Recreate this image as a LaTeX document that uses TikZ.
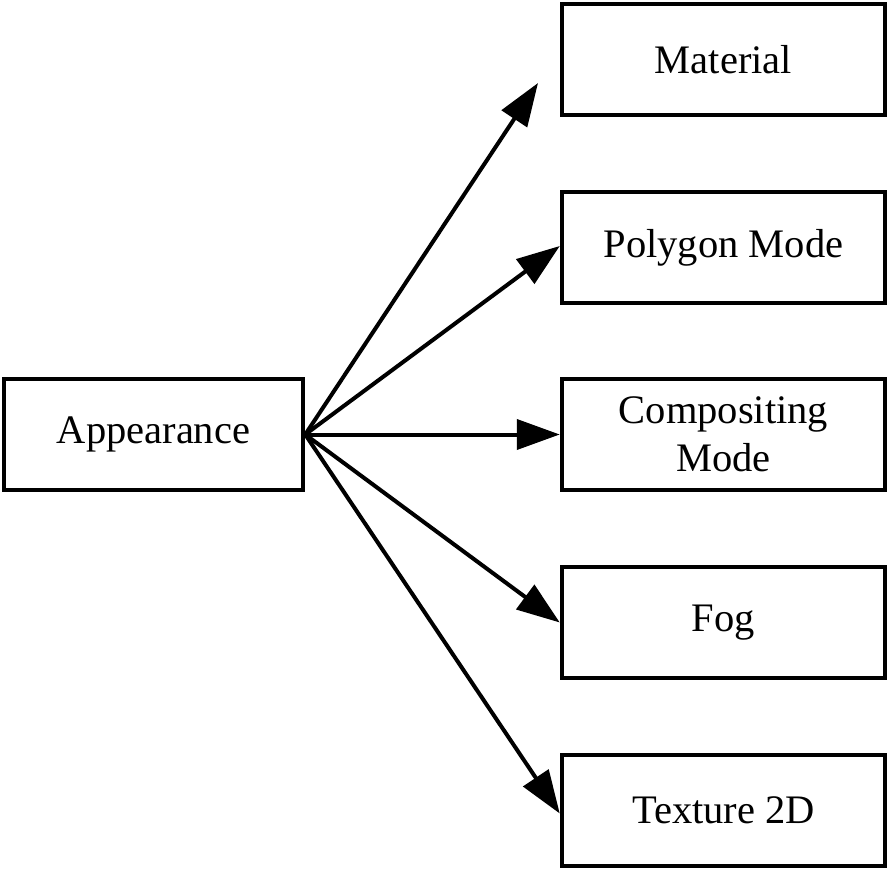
\documentclass[tikz,border=0pt]{standalone}
\usepackage{fontspec}
\setmainfont{Liberation Serif}
\usetikzlibrary{arrows.meta}
\begin{document}
\begin{tikzpicture}[x=1pt,y=-1pt,
  box/.style={draw=black,line width=4.5pt,rectangle,inner sep=0pt,
    minimum width=323pt,minimum height=111pt,align=center,
    font=\fontsize{40.5}{48}\selectfont},
  conn/.style={line width=4pt,-{Triangle[length=43pt,width=30pt]}}]
\useasboundingbox (0,0) rectangle (889,870);
\node[box,minimum width=299pt] (app) at (153.5,434.5) {Appearance};
\node[box] (mat) at (723.5,59.5) {Material};
\node[box] (poly) at (723.5,247.5) {Polygon Mode};
\node[box] (comp) at (723.5,434.5) {Compositing\\Mode};
\node[box] (fog) at (723.5,622.5) {Fog};
\node[box] (tex) at (723.5,810.5) {Texture 2D};
\coordinate (mtip) at (538,83);
\draw[conn] (app.east) -- (mtip);
\draw[conn] (app.east) -- ([yshift=1.5pt]poly.west);
\draw[conn] (app.east) -- (comp.west);
\draw[conn] (app.east) -- (fog.west);
\draw[conn] (app.east) -- ([yshift=-3pt]tex.west);
\end{tikzpicture}
\end{document}
